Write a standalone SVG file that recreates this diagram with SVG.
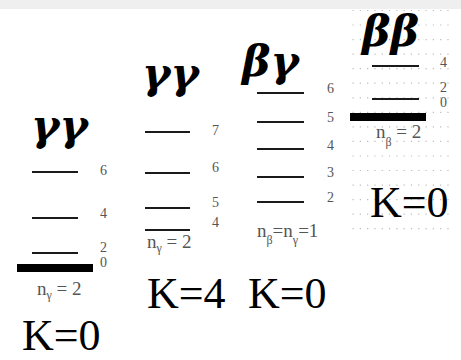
<svg xmlns="http://www.w3.org/2000/svg" width="461" height="360" viewBox="0 0 461 360">
<style>
.title{font-family:"DejaVu Serif","Liberation Serif",serif;font-weight:bold;font-style:italic;font-size:43px;fill:#000}
.k{font-family:"Liberation Serif",serif;font-size:44px;fill:#000}
.lv{stroke:#1a1a1a;stroke-width:2.2}
.gs{stroke:#000;stroke-width:8}
.num{font-family:"Liberation Serif",serif;font-size:14px;fill:#555}
.n{font-family:"Liberation Serif",serif;font-size:19px;fill:#555}
.sub{font-size:12px}
.grid{stroke:#bbb;stroke-width:1.2;stroke-dasharray:1.2 6.1}
</style>
<rect width="461" height="360" fill="#fff"/>
<rect width="461" height="9" fill="#efefef"/>
<g id="grid">
<line class="grid" x1="352.5" y1="10.5" x2="452" y2="10.5"/>
<line class="grid" x1="352.5" y1="25" x2="452" y2="25"/>
<line class="grid" x1="352.5" y1="39.6" x2="452" y2="39.6"/>
<line class="grid" x1="352.5" y1="54.1" x2="452" y2="54.1"/>
<line class="grid" x1="352.5" y1="68.7" x2="452" y2="68.7"/>
<line class="grid" x1="352.5" y1="83.2" x2="452" y2="83.2"/>
<line class="grid" x1="352.5" y1="97.8" x2="452" y2="97.8"/>
<line class="grid" x1="352.5" y1="112.3" x2="452" y2="112.3"/>
<line class="grid" x1="352.5" y1="126.9" x2="452" y2="126.9"/>
<line class="grid" x1="352.5" y1="141.4" x2="452" y2="141.4"/>
<line class="grid" x1="352.5" y1="156" x2="452" y2="156"/>
<line class="grid" x1="352.5" y1="170.5" x2="452" y2="170.5"/>
<line class="grid" x1="352.5" y1="185.1" x2="452" y2="185.1"/>
<line class="grid" x1="352.5" y1="199.6" x2="452" y2="199.6"/>
<line class="grid" x1="352.5" y1="214.2" x2="452" y2="214.2"/>
<line class="grid" x1="352.5" y1="228.7" x2="452" y2="228.7"/>
</g>
<g id="connectors"></g>
<g id="gg-k0">
<text class="title" x="31" y="140">γγ</text>
<line class="lv" x1="32" y1="172" x2="78" y2="172"/>
<line class="lv" x1="32" y1="218" x2="78" y2="218"/>
<line class="lv" x1="32" y1="253" x2="78" y2="253" stroke="#555"/>
<line class="gs" x1="17" y1="268" x2="93" y2="268"/>
<text class="num" x="100" y="175">6</text>
<text class="num" x="100" y="218">4</text>
<text class="num" x="100" y="252">2</text>
<text class="num" x="100" y="267">0</text>
<text class="n" x="37" y="295">n<tspan class="sub" dy="4">γ</tspan><tspan dy="-4"> = 2</tspan></text>
<text class="k" x="22" y="350">K=0</text>
</g>
<g id="gg-k4">
<text class="title" x="142" y="88">γγ</text>
<line class="lv" x1="145" y1="132" x2="190" y2="132"/>
<line class="lv" x1="145" y1="173" x2="190" y2="173"/>
<line class="lv" x1="145" y1="208" x2="190" y2="208"/>
<line class="lv" x1="145" y1="230" x2="190" y2="230"/>
<text class="num" x="212" y="135">7</text>
<text class="num" x="212" y="172">6</text>
<text class="num" x="212" y="207">5</text>
<text class="num" x="212" y="227">4</text>
<text class="n" x="147" y="248">n<tspan class="sub" dy="4">γ</tspan><tspan dy="-4"> = 2</tspan></text>
<text class="k" x="147" y="308">K=4</text>
</g>
<g id="bg-k0">
<text class="title" x="242" y="76">βγ</text>
<line class="lv" x1="257" y1="93" x2="304" y2="93"/>
<line class="lv" x1="257" y1="122" x2="304" y2="122"/>
<line class="lv" x1="257" y1="149" x2="304" y2="149"/>
<line class="lv" x1="257" y1="177" x2="304" y2="177"/>
<line class="lv" x1="257" y1="202" x2="304" y2="202"/>
<text class="num" x="327" y="93">6</text>
<text class="num" x="327" y="122">5</text>
<text class="num" x="327" y="150">4</text>
<text class="num" x="327" y="177">3</text>
<text class="num" x="327" y="202">2</text>
<text class="n" x="257" y="237">n<tspan class="sub" dy="7">β</tspan><tspan dy="-7">=n</tspan><tspan class="sub" dy="7">γ</tspan><tspan dy="-7">=1</tspan></text>
<text class="k" x="248" y="308">K=0</text>
</g>
<g id="bb-k0">
<text class="title" x="362" y="46">ββ</text>
<line class="lv" x1="372" y1="66" x2="419" y2="66"/>
<line class="lv" x1="372" y1="99" x2="419" y2="99"/>
<line class="gs" x1="350" y1="117" x2="426" y2="117"/>
<text class="num" x="440" y="67">4</text>
<text class="num" x="440" y="92">2</text>
<text class="num" x="440" y="107">0</text>
<text class="n" x="376" y="138">n<tspan class="sub" dy="8">β</tspan><tspan dy="-8"> = 2</tspan></text>
<text class="k" x="370" y="217">K=0</text>
</g>
</svg>
